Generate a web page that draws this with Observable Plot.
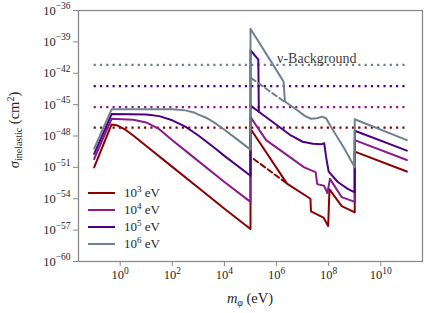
<!DOCTYPE html>
<html><head><meta charset="utf-8">
<script src="https://cdn.jsdelivr.net/npm/d3@7"></script>
<script src="https://cdn.jsdelivr.net/npm/@observablehq/plot@0.6"></script>
<style>body{margin:0;background:#fff} svg{display:block} svg text{font-family:"Liberation Serif","DejaVu Serif",serif}</style>
</head><body><div id="chart"></div>
<script>
// ---- data (log10 m_phi [eV], log10 sigma [cm^2]) ----
const seriesNames = ["1e3", "1e4", "1e5", "1e6"];
const legendExponents = ["3", "4", "5", "6"];
const colors = ["#8b0000", "#8b1a8b", "#4b0082", "#708090"];
const backgroundLevels = [-47.2, -45.24, -43.24, -41.2];
const backgroundRange = [-1, 11];
const backgroundLabel = "ν-Background";
const xTickExps = [0, 2, 4, 6, 8, 10];
const yTickExps = [-36, -39, -42, -45, -48, -51, -54, -57, -60];

const red = [[-1,-51.0],[-0.33,-46.9],[-0.1,-47.0],[0.2,-47.4],[0.5,-47.95],[1,-48.95],[2,-50.95],[3,-52.95],[4,-54.95],[5,-56.9],[5,-47.3],[6.4,-52.55],[7.3,-54.0],[7.32,-55.2],[7.8,-55.8],[7.98,-56.6],[8.03,-53.1],[8.5,-54.7],[9,-55.3],[9,-49.5],[11,-51.4]];
const redDashed = [[5.12,-50.2],[6.35,-52.45]];
const magenta = [[-1,-50.2],[-0.33,-46.35],[0.5,-46.45],[1,-46.7],[1.5,-47.35],[2,-48.4],[2.5,-49.4],[3,-50.4],[4,-52.4],[5,-54.3],[5,-46.2],[5.6,-48.4],[6.5,-50.0],[7.06,-51.0],[7.5,-51.45],[7.56,-52.6],[7.82,-52.75],[7.95,-53.45],[8.05,-52.1],[8.5,-53.85],[9,-54.3],[9,-48.4],[11,-50.3]];
const purple = [[-1,-49.7],[-0.33,-45.9],[1,-45.95],[1.5,-46.1],[2,-46.5],[2.5,-47.1],[3,-47.95],[3.6,-49.1],[4,-49.9],[5,-51.8],[5,-39.8],[5.3,-40.7],[5.32,-45.68],[6.55,-47.95],[7,-48.55],[7.4,-48.75],[7.7,-48.8],[7.83,-48.7],[7.9,-50.0],[8,-51.4],[8.35,-52.4],[8.73,-53.05],[9,-53.4],[9,-47.5],[11,-49.4]];
const purpleBranch = [[5,-45.1],[5.32,-45.68]];
const gray = [[-1,-49.2],[-0.33,-45.45],[2,-45.45],[2.5,-45.55],[2.83,-45.75],[3,-45.95],[3.3,-46.25],[3.6,-46.7],[4,-47.4],[4.5,-48.35],[5,-49.3],[5,-37.75],[6.27,-42.8],[6.32,-44.7],[6.81,-45.56],[7.1,-46.1],[7.32,-46.35],[7.55,-46.3],[7.75,-46.15],[7.9,-46.3],[8.08,-47.1],[8.6,-49.2],[9,-51.0],[9,-46.4],[11,-48.4]];
const grayDashed = [[5.02,-42.45],[6.32,-44.75]];

// ---- tables ----
function rows(pts, series, seg) {
  return pts.map(([lm, ls]) => ({m: 10 ** lm, s: 10 ** ls, series, seg}));
}
const solidRows = [
  ...rows(red, "1e3", "r"), ...rows(magenta, "1e4", "m"),
  ...rows(purple, "1e5", "p"), ...rows(purpleBranch, "1e5", "pb"),
  ...rows(gray, "1e6", "g")
];
const dashedRows = [...rows(redDashed, "1e3", "rd"), ...rows(grayDashed, "1e6", "gd")];
const bgRows = seriesNames.map((n, i) => ({series: n, s: 10 ** backgroundLevels[i], x1: 10 ** backgroundRange[0], x2: 10 ** backgroundRange[1]}));

const font = "Liberation Serif";
const plot = Plot.plot({
  width: 432, height: 313,
  marginLeft: 78, marginTop: 10, marginRight: 10, marginBottom: 52,
  style: {fontFamily: "Liberation Serif", fontSize: "12.5px", color: "#262626", background: "#fff"},
  x: {type: "log", domain: [10 ** -1.6, 10 ** 11.6]},
  y: {type: "log", domain: [1e-60, 1e-36]},
  color: {domain: seriesNames, range: colors},
  marks: [
    Plot.ruleY(bgRows, {y: "s", x1: "x1", x2: "x2", stroke: "series", strokeWidth: 2.2, strokeDasharray: "2.2 4.1"}),
    Plot.line(solidRows, {x: "m", y: "s", z: "seg", stroke: "series", strokeWidth: 2}),
    Plot.line(dashedRows, {x: "m", y: "s", z: "seg", stroke: "series", strokeWidth: 2, strokeDasharray: "5.5 3.2"}),
    Plot.text([{m: 10 ** 6.02, s: 10 ** backgroundLevels[3]}], {x: "m", y: "s", text: () => backgroundLabel, textAnchor: "start", dy: -6.5, fontSize: 14, fill: "#404040"}),
    Plot.frame({stroke: "#8a8a8a", strokeWidth: 1.3}),
    Plot.axisX({ticks: xTickExps.map(e => 10 ** e), tickFormat: d => "10^" + Math.round(Math.log10(d)), tickSize: 5, tickPadding: 4, stroke: "#8a8a8a", label: null}),
    Plot.axisY({ticks: yTickExps.map(e => 10 ** e), tickFormat: d => "10^" + Math.round(Math.log10(d)), tickSize: 5, tickPadding: 3, stroke: "#8a8a8a", label: null})
  ]
});
document.getElementById("chart").appendChild(plot);

const NS = "http://www.w3.org/2000/svg";
function setPow(t, base, exp, supSize, dy) {
  t.textContent = "";
  const a = document.createElementNS(NS, "tspan"); a.textContent = base; t.appendChild(a);
  const b = document.createElementNS(NS, "tspan");
  b.textContent = exp.replace("-", "\u2212");
  b.setAttribute("font-size", supSize); b.setAttribute("dy", dy);
  t.appendChild(b);
}
plot.querySelectorAll('[aria-label="y-axis tick label"] text').forEach(t => {
  const [b, e] = t.textContent.split("^"); setPow(t, b, e, 9.5, -5.5);
});
plot.querySelectorAll('[aria-label="x-axis tick label"] text').forEach(t => {
  const [b, e] = t.textContent.split("^"); setPow(t, b, e, 9.5, -5.5);
});

const svg = d3.select(plot);
// axis titles
const xl = svg.append("text").attr("x", 250).attr("y", 303).attr("text-anchor", "middle")
  .attr("font-size", 14.5).attr("fill", "#262626");
xl.append("tspan").attr("font-style", "italic").text("m");
xl.append("tspan").attr("font-style", "italic").attr("font-size", 10).attr("dy", 3).text("φ");
xl.append("tspan").attr("dy", -3).text(" (eV)");

const yl = svg.append("text").attr("transform", "translate(19,130) rotate(-90)").attr("text-anchor", "middle")
  .attr("font-size", 14.5).attr("fill", "#262626");
yl.append("tspan").attr("font-style", "italic").text("σ");
yl.append("tspan").attr("font-size", 10).attr("dy", 3).text("inelastic");
yl.append("tspan").attr("dy", -3).text(" (cm");
yl.append("tspan").attr("font-size", 10).attr("dy", -5).text("2");
yl.append("tspan").attr("dy", 5).text(")");

// legend
const lg = svg.append("g").attr("text-anchor", "start");
seriesNames.forEach((n, i) => {
  const y = 193 + i * 17;
  lg.append("line").attr("x1", 88).attr("x2", 115).attr("y1", y).attr("y2", y)
    .attr("stroke", colors[i]).attr("stroke-width", 2);
  const t = lg.append("text").attr("x", 124).attr("y", y + 4).attr("text-anchor", "start")
    .attr("font-size", 13).attr("fill", "#262626");
  t.append("tspan").text("10");
  t.append("tspan").attr("font-size", 9).attr("dy", -5).text(legendExponents[i]);
  t.append("tspan").attr("dy", 5).text(" eV");
});
</script></body></html>
